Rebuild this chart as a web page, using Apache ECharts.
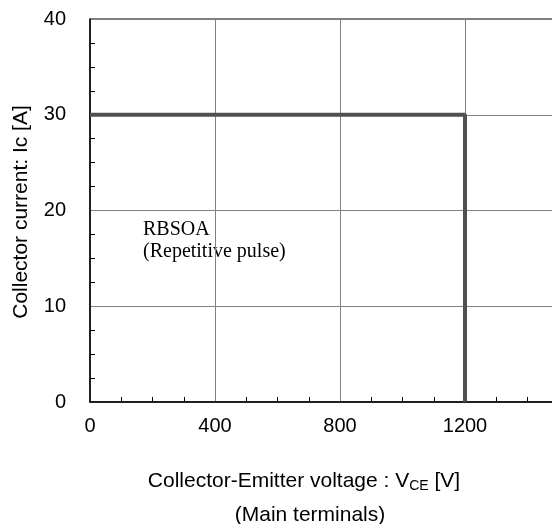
<!DOCTYPE html>
<html><head><meta charset="utf-8">
<script src="https://cdn.jsdelivr.net/npm/echarts@6/dist/echarts.min.js"></script>
<style>html,body{margin:0;padding:0;background:#fff}#c{width:552px;height:524px}</style>
</head><body><div id="c"></div>
<script>
const voltage = [0, 1200, 1200];
const current = [30, 30, 0];
const xTicks = [0, 400, 800, 1200];
const yTicks = [0, 10, 20, 30, 40];
const annotation = ['RBSOA', '(Repetitive pulse)'];
const xTitle = ['Collector-Emitter voltage : V', 'CE', ' [V]'];
const xTitle2 = '(Main terminals)';
const yTitle = 'Collector current: Ic [A]';

const chart = echarts.init(document.getElementById('c'));
const font = '"Liberation Sans", Arial, sans-serif';
chart.setOption({
  animation: false,
  grid: { left: 90, top: 19, right: -38, bottom: 122, outerBoundsMode: 'none', containLabel: false,
    show: true, borderColor: '#000', borderWidth: 1, backgroundColor: 'transparent' },
  xAxis: {
    type: 'value', min: 0, max: 1600, interval: 400,
    axisLine: { show: true, lineStyle: { color: '#000', width: 1.5 } },
    axisTick: { show: false, inside: true },
    minorTick: { show: true, splitNumber: 4, length: 5, lineStyle: { color: '#000' } },
    splitLine: { show: true, lineStyle: { color: '#808080', width: 1 } },
    axisLabel: { color: '#000', fontSize: 20, fontFamily: font, margin: 14,
      formatter: v => xTicks.includes(v) ? String(v) : '' }
  },
  yAxis: {
    type: 'value', min: 0, max: 40, interval: 10,
    axisLine: { show: true, lineStyle: { color: '#000', width: 1.5 } },
    axisTick: { show: false, inside: true },
    minorTick: { show: true, splitNumber: 4, length: 5, lineStyle: { color: '#000' } },
    splitLine: { show: true, lineStyle: { color: '#808080', width: 1 } },
    axisLabel: { color: '#000', fontSize: 20, fontFamily: font, margin: 24,
      formatter: v => yTicks.includes(v) ? String(v) : '' }
  },
  series: [{
    type: 'line', data: voltage.map((v, i) => [v, current[i]]),
    symbol: 'none', lineStyle: { color: '#505050', width: 4 }, z: 5
  }],
  graphic: [{
    type: 'text', left: 143, top: 219,
    style: { text: annotation.join('\n'), fontSize: 20, lineHeight: 22,
      fontFamily: '"Liberation Serif", "Times New Roman", serif', fill: '#000' }
  }, {
    type: 'text', x: 21, y: 212, rotation: Math.PI / 2,
    style: { text: yTitle, fontSize: 21, fontFamily: font, fill: '#000', align: 'center', verticalAlign: 'middle' }
  }, {
    type: 'text', x: 304, y: 481,
    style: { text: '{m|' + xTitle[0] + '}{s|' + xTitle[1] + '}{m|' + xTitle[2] + '}',
      align: 'center', verticalAlign: 'middle', fill: '#000',
      rich: { m: { fontSize: 21, lineHeight: 24, fontFamily: font, fill: '#000' },
              s: { fontSize: 14, lineHeight: 15, verticalAlign: 'bottom', fontFamily: font, fill: '#000' } } }
  }, {
    type: 'text', x: 310, y: 515,
    style: { text: xTitle2, fontSize: 21, fontFamily: font, fill: '#000', align: 'center', verticalAlign: 'middle' }
  }]
});
</script></body></html>
